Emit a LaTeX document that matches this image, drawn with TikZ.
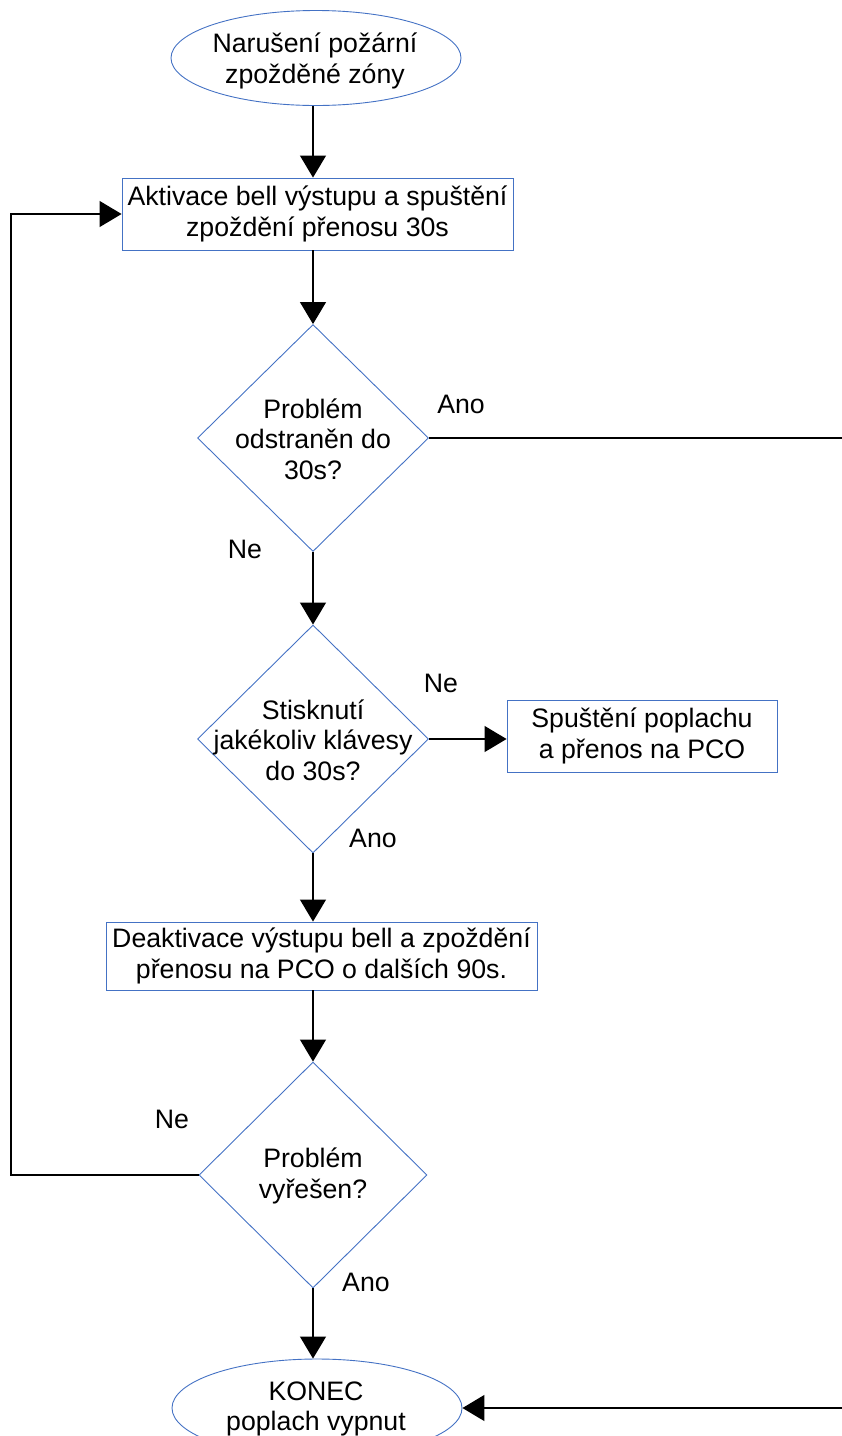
\documentclass[tikz,border=0pt]{standalone}
\usepackage{fontspec}
\setmainfont{Liberation Sans}
\usetikzlibrary{shapes.geometric,arrows.meta}
\definecolor{shapeblue}{RGB}{68,114,196}
\begin{document}
\begin{tikzpicture}[x=1pt,y=-1pt,
  font=\fontsize{26.7}{30.5}\selectfont,
  flowline/.style={draw=black, line width=1.2pt},
  arr/.style={flowline, -{Triangle[length=22pt,width=26pt]}},
  procbox/.style={draw=shapeblue, line width=0.9pt, rectangle, inner sep=0pt, align=center},
  term/.style={draw=shapeblue, line width=0.9pt, ellipse, inner sep=0pt},
  decision/.style={draw=shapeblue, line width=0.9pt, diamond, inner sep=0pt},
  txt/.style={align=center, inner sep=0pt},
  lbl/.style={inner sep=0pt}]
\useasboundingbox (0,0) rectangle (842,1436);
\clip (0,0) rectangle (842,1436);

% shapes
\node[term, minimum width=290pt, minimum height=95pt] (e1) at (316,58) {};
\node[txt] (e1t) at (315,61) {Narušení požární\\zpožděné zóny};

\node[procbox, minimum width=391pt, minimum height=72pt] (b1) at (317.5,214) {Aktivace bell výstupu a spuštění\\zpoždění přenosu 30s};

\node[decision, minimum width=231pt, minimum height=227pt] (d1) at (313,438) {};
\node[txt] (d1t) at (313,439) {Problém\\odstraněn do\\30s?};

\node[decision, minimum width=231pt, minimum height=228pt] (d2) at (313,739) {};
\node[txt] (d2t) at (313,740) {Stisknutí\\jakékoliv klávesy\\do 30s?};

\node[procbox, minimum width=270pt, minimum height=72pt] (b2) at (642,736) {Spuštění poplachu\\a přenos na PCO};

\node[procbox, minimum width=431pt, minimum height=68pt] (b3) at (321.5,956) {Deaktivace výstupu bell a zpoždění\\přenosu na PCO o dalších 90s.};

\node[decision, minimum width=228pt, minimum height=226pt] (d3) at (313,1175) {};
\node[txt] (d3t) at (313,1176) {Problém\\vyřešen?};

\node[term, minimum width=290pt, minimum height=98pt] (e2) at (317,1408) {};
\node[txt] (e2t) at (316,1409) {KONEC\\poplach vypnut};

% labels
\node[lbl] (l1) at (461,404) {Ano};
\node[lbl] (l2) at (245,549) {Ne};
\node[lbl] (l3) at (441,683) {Ne};
\node[lbl] (l4) at (373,838) {Ano};
\node[lbl] (l5) at (172,1119) {Ne};
\node[lbl] (l6) at (366,1282) {Ano};

% free ends
\coordinate (rt) at (842,438);
\coordinate (rb) at (842,1408);
\coordinate (lf) at (11,1175);

% connectors
\draw[arr] (e1.south -| d1.north) -- (d1.north |- b1.north);
\draw[arr] (b1.south -| d1.north) -- (d1.north);
\draw[flowline] (d1.east) -- (d1.east -| rt);
\draw[arr] (d1.south) -- (d2.north);
\draw[arr] (d2.east) -- (d2.east -| b2.west);
\draw[arr] (d2.south) -- (d2.south |- b3.north);
\draw[arr] (b3.south -| d3.north) -- (d3.north);
\draw[arr] (d3.west) -- (d3.west -| lf) |- (b1.west);
\draw[arr] (d3.south) -- (d3.south |- e2.north);
\draw[arr] (rb) -- (e2.east);
\end{tikzpicture}
\end{document}
